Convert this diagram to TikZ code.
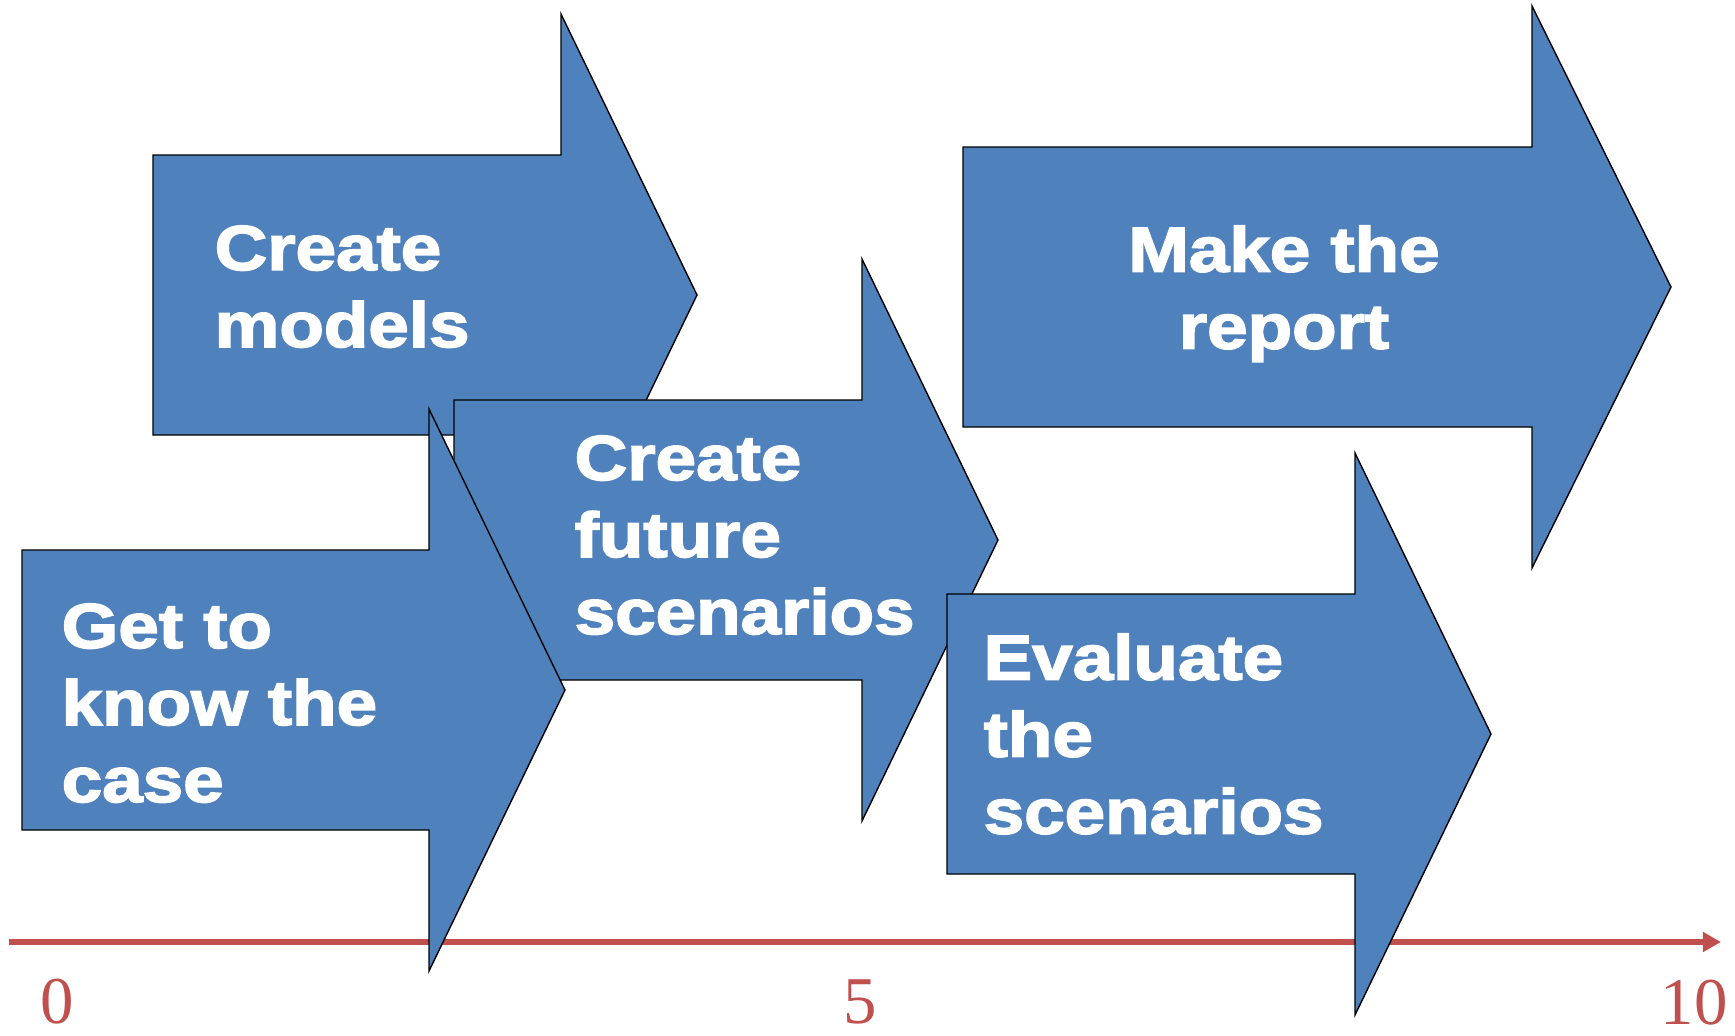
\documentclass[tikz,border=0pt]{standalone}
\usepackage{fontspec}
\usetikzlibrary{arrows.meta}

\newfontfamily\stagefont{Liberation Sans Bold}[FakeStretch=1.15,FakeBold=2.6]
\newfontfamily\tickfont{Liberation Serif}
\definecolor{stageblue}{HTML}{4F81BD}
\definecolor{timered}{HTML}{C0504D}

\tikzset{
  stage/.style={fill=stageblue,draw=black,line width=0.4pt,line join=miter},
  stagetext/.style={text=white,inner sep=0pt,align=left,
    font=\stagefont\fontsize{18pt}{21.9pt}\selectfont},
  timeline/.style={draw=timered,line width=0.06cm,-{Triangle[length=0.18cm,width=0.19cm]}},
  tick/.style={text=timered,inner sep=0pt,font=\tickfont\fontsize{19pt}{22pt}\selectfont}
}

\begin{document}
\begin{tikzpicture}[x=0.01cm,y=-0.01cm]
\useasboundingbox (0,0) rectangle (1735,1035);

% time axis
\coordinate (start) at (9,942);
\coordinate (end) at (1721,942);
\draw[timeline] (start) -- (end);
\node[tick] (t0) at (57,1002) {0};
\node[tick] (t5) at (860,1002) {5};
\node[tick] (t10) at (1694,1003) {10};

% Create models
\filldraw[stage] (153,155) -- ++(408,0) -- ++(0,-141) -- ++(136,281)
  -- ++(-136,281) -- ++(0,-141) -- ++(-408,0) -- cycle;
\node[stagetext,anchor=north west] (models) at (214,225) {Create\\models};

% Make the report
\filldraw[stage] (963,147) -- ++(569,0) -- ++(0,-141) -- ++(139,281)
  -- ++(-139,281) -- ++(0,-141) -- ++(-569,0) -- cycle;
\node[stagetext,align=center,anchor=north] (report) at (1284,225) {Make the\\report};

% Create future scenarios
\filldraw[stage] (454,400) -- ++(408,0) -- ++(0,-141) -- ++(136,281)
  -- ++(-136,281) -- ++(0,-141) -- ++(-408,0) -- cycle;
\node[stagetext,anchor=north west] (future) at (574,435) {Create\\future\\scenarios};

% Evaluate the scenarios
\filldraw[stage] (947,594) -- ++(408,0) -- ++(0,-141) -- ++(136,281)
  -- ++(-136,281) -- ++(0,-141) -- ++(-408,0) -- cycle;
\node[stagetext,anchor=north west] (evaluate) at (983,633) {Evaluate\\the\\scenarios};

% Get to know the case
\filldraw[stage] (22,550) -- ++(407,0) -- ++(0,-141) -- ++(136,281)
  -- ++(-136,281) -- ++(0,-141) -- ++(-407,0) -- cycle;
\node[stagetext,anchor=north west] (know) at (61,603) {Get to\\know the\\case};
\end{tikzpicture}
\end{document}
